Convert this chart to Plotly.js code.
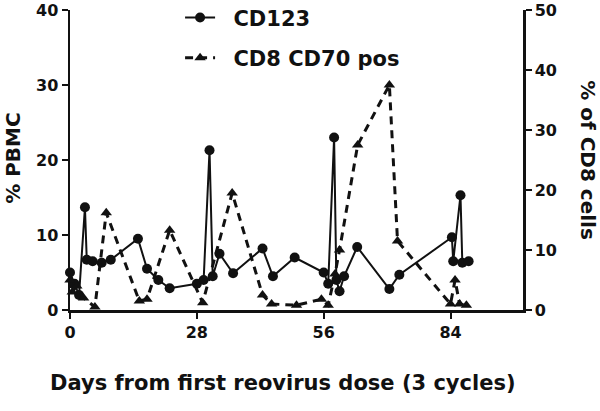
<!DOCTYPE html>
<html>
<head>
<meta charset="utf-8">
<script src="https://cdn.plot.ly/plotly-3.0.1.min.js"></script>
<style>html,body{margin:0;padding:0;background:#fff;}#chart{width:600px;height:411px;}</style>
</head>
<body>
<div id="chart"></div>
<script>
// CD123 (% PBMC, left axis)
var cd123Days = [0, 1, 2, 3.3, 3.7, 5, 7, 9, 15, 17, 19.5, 22, 28, 29.5, 30.8, 31.5, 33, 36, 42.5, 44.8, 49.6, 56, 57, 58.3, 58.8, 59.5, 60.5, 63.4, 70.5, 72.7, 84.3, 84.6, 86.2, 86.6, 88];
var cd123Vals = [5, 3.5, 2, 13.7, 6.7, 6.5, 6.3, 6.7, 9.5, 5.5, 4, 2.9, 3.5, 4, 21.3, 4.5, 7.5, 4.9, 8.2, 4.5, 7, 5, 3.5, 23, 4, 2.5, 4.5, 8.4, 2.8, 4.7, 9.7, 6.5, 15.3, 6.3, 6.5];
// CD8 CD70 pos (% of CD8 cells, right axis)
var cd70Days = [0, 0.5, 1.5, 3, 5.5, 8, 15.3, 17, 22, 29.3, 35.8, 42.5, 44.5, 50, 55.5, 57, 58.5, 59.5, 63.5, 70.5, 72.3, 84, 85, 86, 87.5];
var cd70Vals = [5, 3, 4, 2, 0.5, 16.2, 1.5, 1.8, 13.3, 1.2, 19.5, 2.5, 1, 0.8, 1.8, 0.8, 6, 10, 27.5, 37.5, 11.5, 1, 5, 1, 0.8];

var xTicks = [0, 28, 56, 84];
var yLeftTicks = [0, 10, 20, 30, 40];
var yRightTicks = [0, 10, 20, 30, 40, 50];

var fontFam = 'DejaVu Sans, Liberation Sans, Arial, sans-serif';
var ink = '#111111';

function bold(v) { return '<b>' + v + '</b>'; }

var traces = [
  {
    x: cd123Days, y: cd123Vals, name: '\u00a0\u00a0<b>CD123</b>', type: 'scatter', mode: 'lines+markers',
    yaxis: 'y', legendgroup: 'a', cliponaxis: false,
    line: {color: ink, width: 2},
    marker: {symbol: 'circle', size: 10, color: ink}
  },
  {
    x: cd70Days, y: cd70Vals, name: '\u00a0\u00a0<b>CD8 CD70 pos</b>', type: 'scatter', mode: 'lines+markers',
    yaxis: 'y2', legendgroup: 'b', cliponaxis: false,
    line: {color: ink, width: 3, dash: '8px,6px'},
    marker: {symbol: 'triangle-up', size: 10, color: ink}
  }
];

var axisCommon = {
  showgrid: false, zeroline: false, showline: true, linecolor: ink, linewidth: 2.5,
  ticks: 'outside', ticklen: 6, tickwidth: 2, tickcolor: ink,
  tickfont: {family: fontFam, size: 16, color: ink}
};

var layout = {
  width: 600, height: 411,
  margin: {l: 70, r: 77, t: 10, b: 101, autoexpand: false},
  paper_bgcolor: '#fff', plot_bgcolor: '#fff',
  font: {family: fontFam, color: ink, size: 13},
  showlegend: true,
  legend: {
    x: 0.243, y: 1.042, xanchor: 'left', yanchor: 'top',
    font: {family: fontFam, size: 21, color: ink},
    traceorder: 'grouped', tracegroupgap: 10,
    bgcolor: 'rgba(0,0,0,0)'
  },
  xaxis: Object.assign({}, axisCommon, {
    range: [0, 100], tickvals: xTicks, ticktext: xTicks.map(bold)
  }),
  yaxis: Object.assign({}, axisCommon, {
    range: [0, 40], tickvals: yLeftTicks, ticktext: yLeftTicks.map(bold)
  }),
  yaxis2: Object.assign({}, axisCommon, {
    range: [0, 50], overlaying: 'y', side: 'right', tickvals: yRightTicks, ticktext: yRightTicks.map(bold)
  }),
  annotations: [
    {
      text: '<b>Days from first reovirus dose (3 cycles)</b>', xref: 'paper', yref: 'paper',
      x: 0.471, y: -0.243, xanchor: 'center', yanchor: 'middle', showarrow: false,
      font: {family: fontFam, size: 21, color: ink}
    },
    {
      text: '<b>% PBMC</b>', xref: 'paper', yref: 'paper', x: -0.126, y: 0.507,
      xanchor: 'center', yanchor: 'middle', textangle: -90, showarrow: false,
      font: {family: fontFam, size: 20, color: ink}
    },
    {
      text: '<b>% of CD8 cells</b>', xref: 'paper', yref: 'paper', x: 1.143, y: 0.5,
      xanchor: 'center', yanchor: 'middle', textangle: 90, showarrow: false,
      font: {family: fontFam, size: 20, color: ink}
    }
  ]
};

Plotly.newPlot('chart', traces, layout, {displayModeBar: false, staticPlot: true});
</script>
</body>
</html>
